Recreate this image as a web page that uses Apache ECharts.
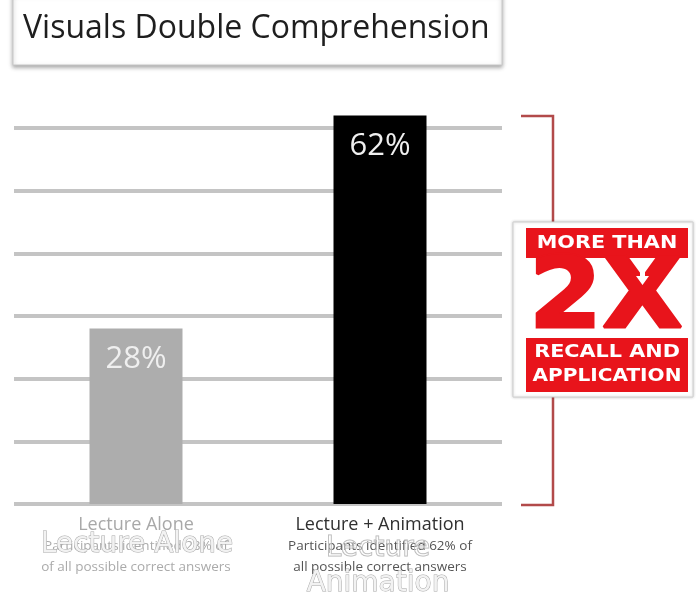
<!DOCTYPE html>
<html>
<head>
<meta charset="utf-8">
<script src="https://cdn.jsdelivr.net/npm/echarts@6/dist/echarts.min.js"></script>
<style>html,body{margin:0;padding:0;background:#fff;}#c{width:697px;height:598px;}</style>
</head>
<body>
<div id="c"></div>
<script>
const categories = ['Lecture Alone', 'Lecture + Animation'];
const values = [28, 62];
const barColors = ['#adadad', '#000000'];
const subLines = [
  ['Participants identified 28% of', 'of all possible correct answers'],
  ['Participants identified 62% of', 'all possible correct answers']
];
const titleText = 'Visuals Double Comprehension';
const calloutTop = 'MORE THAN';
const calloutBig = '2X';
const calloutBottom = ['RECALL AND', 'APPLICATION'];
const yMin = 0, yMax = 60, yStep = 10;

const chart = echarts.init(document.getElementById('c'), null, {renderer: 'canvas'});
const red = '#e8141b';
const bracketColor = '#b24a4a';

chart.setOption({
  backgroundColor: '#ffffff',
  animation: false,
  grid: {left: 14, right: 195, top: 128, bottom: 94, containLabel: false},
  xAxis: {
    type: 'category',
    data: categories,
    axisLine: {show: false},
    axisTick: {show: false},
    axisLabel: {
      margin: 9,
      interval: 0,
      formatter: function (v, i) {
        const k = categories.indexOf(v);
        const t = k === 0 ? 'a' : 'c';
        const s = k === 0 ? 'b' : 'd';
        return '{' + t + '|' + v + '}\n{' + s + '|' + subLines[k][0] + '}\n{' + s + '|' + subLines[k][1] + '}';
      },
      rich: {
        a: {fontFamily: 'Open Sans', fontSize: 18, color: '#a8a8a8', lineHeight: 23, align: 'center'},
        b: {fontFamily: 'Open Sans', fontSize: 13.5, color: '#ababab', lineHeight: 21, align: 'center'},
        c: {fontFamily: 'Open Sans', fontSize: 18, color: '#303030', lineHeight: 23, align: 'center'},
        d: {fontFamily: 'Open Sans', fontSize: 13.5, color: '#555555', lineHeight: 21, align: 'center'}
      }
    }
  },
  yAxis: {
    type: 'value',
    min: yMin, max: yMax, interval: yStep,
    axisLine: {show: false}, axisTick: {show: false}, axisLabel: {show: false},
    splitLine: {show: true, lineStyle: {color: '#c4c4c4', width: 4}}
  },
  series: [{
    type: 'bar',
    clip: false,
    barWidth: 93,
    data: values.map((v, i) => ({value: v, itemStyle: {color: barColors[i]}})),
    label: {
      show: true,
      position: 'insideTop',
      distance: 15,
      formatter: '{c}%',
      fontFamily: 'Open Sans',
      fontSize: 31,
      color: '#efefef'
    }
  }],
  graphic: [
    // title box
    {type: 'rect', shape: {x: 13, y: -6, width: 489, height: 71},
     style: {fill: '#ffffff', stroke: '#c8c8c8', lineWidth: 1, shadowBlur: 4, shadowOffsetY: 2, shadowColor: 'rgba(0,0,0,0.35)'}, z: 10},
    {type: 'text', left: 23, top: 13, z: 11,
     style: {text: titleText, fontFamily: 'Open Sans', fontSize: 32, fill: '#1e1e1e'}},
    // bracket
    {type: 'polyline', shape: {points: [[521, 116], [553, 116], [553, 505], [521, 505]]},
     style: {stroke: bracketColor, lineWidth: 2.5, fill: null}, z: 5},
    // callout white box
    {type: 'rect', shape: {x: 513, y: 222, width: 180, height: 175},
     style: {fill: '#ffffff', stroke: '#d0d0d0', lineWidth: 1, shadowBlur: 3, shadowColor: 'rgba(0,0,0,0.2)'}, z: 6},
    {type: 'rect', shape: {x: 526, y: 228, width: 162, height: 30}, style: {fill: red}, z: 7},
    {type: 'rect', shape: {x: 526, y: 338, width: 162, height: 54}, style: {fill: red}, z: 7},
    {type: 'text', x: 607, y: 244, scaleX: 1.22, z: 8,
     style: {text: calloutTop, fontFamily: 'DejaVu Sans', fontWeight: 'bold', fontSize: 17, fill: '#ffffff', align: 'center', verticalAlign: 'middle'}},
    {type: 'text', x: 607, y: 353, scaleX: 1.22, z: 8,
     style: {text: calloutBottom[0], fontFamily: 'DejaVu Sans', fontWeight: 'bold', fontSize: 17, fill: '#ffffff', align: 'center', verticalAlign: 'middle'}},
    {type: 'text', x: 607, y: 377, scaleX: 1.18, z: 8,
     style: {text: calloutBottom[1], fontFamily: 'DejaVu Sans', fontWeight: 'bold', fontSize: 17, fill: '#ffffff', align: 'center', verticalAlign: 'middle'}},
    {type: 'text', x: 606, y: 302, scaleX: 1.07, z: 8,
     style: {text: calloutBig, fontFamily: 'DejaVu Sans', fontWeight: 'bold', fontSize: 98, fill: red, stroke: red, lineWidth: 3, align: 'center', verticalAlign: 'middle'}},
    // small arrows in the X
    {type: 'polygon', shape: {points: [[640, 262], [645, 262], [645, 276], [649, 276], [642.5, 285], [636, 276], [640, 276]]},
     style: {fill: '#ffffff'}, z: 9},
    {type: 'polygon', shape: {points: [[640, 333], [645, 333], [645, 320], [649, 320], [642.5, 311], [636, 320], [640, 320]]},
     style: {fill: '#ffffff'}, z: 9},
    // ghost overlay texts
    {type: 'text', x: 137, y: 545, z: 12,
     style: {text: 'Lecture Alone', fontFamily: 'DejaVu Sans', fontSize: 28, fill: '#f2f2f2', stroke: '#a9a9a9', lineWidth: 1, align: 'center', verticalAlign: 'middle'}},
    {type: 'text', x: 378, y: 549, z: 12,
     style: {text: 'Lecture', fontFamily: 'DejaVu Sans', fontSize: 28, fill: 'rgba(255,255,255,0.3)', stroke: '#b5b5b5', lineWidth: 1, align: 'center', verticalAlign: 'middle'}},
    {type: 'text', x: 378, y: 584, z: 12,
     style: {text: 'Animation', fontFamily: 'DejaVu Sans', fontSize: 28, fill: '#f2f2f2', stroke: '#a9a9a9', lineWidth: 1, align: 'center', verticalAlign: 'middle'}}
  ]
});
</script>
</body>
</html>
